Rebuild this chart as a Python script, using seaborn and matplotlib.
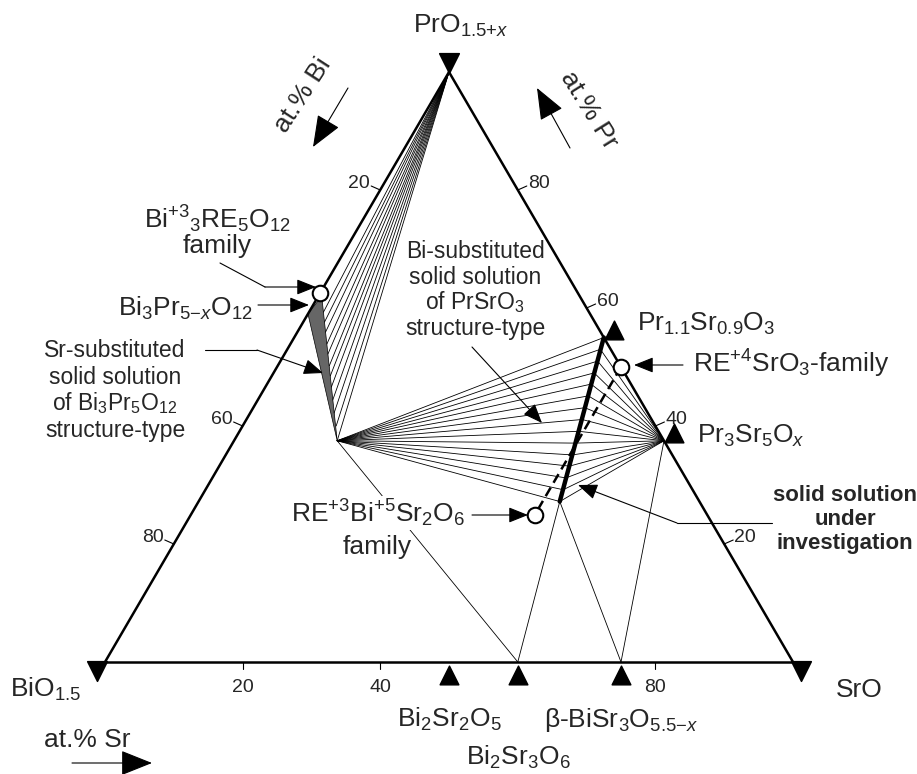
import numpy as np
import pandas as pd
import matplotlib
matplotlib.use("Agg")
import matplotlib.pyplot as plt
import seaborn as sns

sns.set_theme(style="white")
plt.rcParams["font.family"] = ["Liberation Sans", "DejaVu Sans"]
plt.rcParams.update({
    "mathtext.fontset": "custom",
    "mathtext.rm": "Liberation Sans",
    "mathtext.it": "Liberation Sans:italic",
    "mathtext.bf": "Liberation Sans:bold",
    "mathtext.default": "regular",
})

# ---------------- compositions: (Pr, Sr) atomic fractions, Bi = 1 - Pr - Sr
corner_labels = ["BiO$_{1.5}$", "SrO", "PrO$_{1.5{+}\\mathit{x}}$"]
corner_pr = [0.0, 0.0, 1.0]
corner_sr = [0.0, 1.0, 0.0]

# Bi-Sr binary phases on the base line
base_labels = ["Bi$_2$Sr$_2$O$_5$", "Bi$_2$Sr$_3$O$_6$", "β-BiSr$_3$O$_{5.5{-}\\mathit{x}}$"]
base_sr = [0.50, 0.60, 0.75]

# Pr-Sr binary phases on the right edge
prsr_labels = ["Pr$_{1.1}$Sr$_{0.9}$O$_3$", "Pr$_3$Sr$_5$O$_\\mathit{x}$"]
prsr_pr = [0.55, 0.375]
prsr_sr = [0.45, 0.625]

# structure-type families (open circles): Bi3Pr5O12, PrSrO3, PrBiSr2O6
family_pr = [0.625, 0.50, 0.25]
family_sr = [0.0, 0.50, 0.50]

# solid solution under investigation (thick line) with its tie-line ends
ss_pr = [0.550, 0.530, 0.510, 0.490, 0.471, 0.451, 0.431, 0.411,
         0.391, 0.371, 0.351, 0.332, 0.312, 0.292, 0.272]
ss_sr = [0.450, 0.455, 0.461, 0.466, 0.471, 0.477, 0.482, 0.488,
         0.493, 0.498, 0.504, 0.509, 0.514, 0.520, 0.525]

# Sr-substituted Bi3Pr5O12 strip (shaded)
strip_pr = [0.620, 0.590, 0.375]
strip_sr = [0.005, 0.000, 0.150]

# tie-line ends along the strip, joined to PrO1.5+x
strip_tie_pr = [0.593, 0.576, 0.559, 0.539, 0.522, 0.502,
                0.485, 0.466, 0.444, 0.422, 0.400, 0.375]
strip_tie_sr = [0.021, 0.031, 0.041, 0.053, 0.063, 0.075,
                0.085, 0.096, 0.109, 0.122, 0.136, 0.150]

# single tie lines towards the Bi-Sr base phases
extra_from_pr = [0.375, 0.272, 0.272, 0.375]
extra_from_sr = [0.150, 0.525, 0.525, 0.625]
extra_to_sr = [0.60, 0.60, 0.75, 0.75]

# axis graduations (at.%)
bi_ticks = [20, 60, 80]
pr_ticks = [80, 60, 40, 20]
sr_ticks = [20, 40, 80]

# ---------------- figure, drawn in pixel units
W, H = 917, 774
fig = plt.figure(figsize=(W / 100, H / 100), dpi=100)
ax = fig.add_axes([0, 0, 1, 1])

BI_X, BASE_Y, SIDE, TRI_H = 105.0, 662.0, 688.0, 590.0


def tern(pr, sr):
    pr = np.atleast_1d(np.asarray(pr, float))
    sr = np.atleast_1d(np.asarray(sr, float))
    return BI_X + SIDE * (sr + pr / 2.0), BASE_Y - TRI_H * pr


def draw_segments(p0, s0, p1, s1, **kw):
    x0, y0 = tern(p0, s0)
    x1, y1 = tern(p1, s1)
    x0, x1 = np.broadcast_arrays(x0, x1)
    y0, y1 = np.broadcast_arrays(y0, y1)
    n = len(x0)
    df = pd.DataFrame({
        "x": np.concatenate([x0, x1]),
        "y": np.concatenate([y0, y1]),
        "seg": np.tile(np.arange(n), 2),
        "order": np.repeat([0, 1], n),
    }).sort_values(["seg", "order"])
    sns.lineplot(data=df, x="x", y="y", units="seg", estimator=None,
                 sort=False, ax=ax, legend=False, **kw)


TIE = dict(color="black", linewidth=0.6)

# strip shading
sx, sy = tern(strip_pr, strip_sr)
ax.fill(sx, sy, facecolor="0.4", edgecolor="black", linewidth=0.5, zorder=2)

# fan from PrO1.5+x to the strip
draw_segments(1.0, 0.0, strip_tie_pr, strip_tie_sr, **TIE)
# fan from the strip end to the solid solution
draw_segments(strip_pr[-1], strip_sr[-1], ss_pr, ss_sr, **TIE)
# fan from Pr3Sr5Ox to the solid solution
draw_segments(prsr_pr[1], prsr_sr[1], ss_pr, ss_sr, **TIE)
# tie lines to the base phases
draw_segments(extra_from_pr, extra_from_sr, 0.0, extra_to_sr, **TIE)

# triangle frame
draw_segments(corner_pr, corner_sr, np.roll(corner_pr, -1), np.roll(corner_sr, -1),
              color="black", linewidth=1.8)

# solid solution under investigation
draw_segments(ss_pr[0], ss_sr[0], ss_pr[-1], ss_sr[-1], color="black", linewidth=3.2)
# dashed join between the two families
fx, fy = tern(family_pr, family_sr)
ax.plot(fx[1:], fy[1:], color="black", lw=1.8, ls=(0, (4.0, 2.2)), zorder=3)

# ---------------- markers
cx, cy = tern(corner_pr, corner_sr)
corner_off = np.array([[-8, 9], [8, 9], [0, -9]])
sns.scatterplot(x=cx + corner_off[:, 0], y=cy + corner_off[:, 1], marker="v", s=200,
                color="black", edgecolor="black", ax=ax, zorder=6, legend=False)

bx, by = tern(np.zeros(len(base_sr)), base_sr)
sns.scatterplot(x=bx, y=by + 13, marker="^", s=180, color="black",
                edgecolor="black", ax=ax, zorder=6, legend=False)

px_, py_ = tern(prsr_pr, prsr_sr)
sns.scatterplot(x=px_ + 10, y=py_ - 8, marker="^", s=180, color="black",
                edgecolor="black", ax=ax, zorder=6, legend=False)

sns.scatterplot(x=fx, y=fy, marker="o", s=125, color="white",
                edgecolor="black", linewidth=1.5, ax=ax, zorder=7, legend=False)

# ---------------- graduations
TICKFS = 14
for b in bi_ticks:
    x0, y0 = tern(1 - b / 100, 0.0)
    x1, y1 = x0[0] - 9, y0[0] - 4
    ax.plot([x0[0], x1], [y0[0], y1], color="black", lw=0.8)
    ax.text(x1 - 1, y1 - 3, str(b), ha="right", va="center", fontsize=TICKFS)
for p in pr_ticks:
    x0, y0 = tern(p / 100, 1 - p / 100)
    x1, y1 = x0[0] + 9, y0[0] - 4
    ax.plot([x0[0], x1], [y0[0], y1], color="black", lw=0.8)
    ax.text(x1 + 1, y1 - 3, str(p), ha="left", va="center", fontsize=TICKFS)
for s in sr_ticks:
    x0, y0 = tern(0.0, s / 100)
    ax.plot([x0[0], x0[0]], [y0[0], y0[0] + 7], color="black", lw=0.8)
    ax.text(x0[0], y0[0] + 17, str(s), ha="center", va="top", fontsize=TICKFS)

# ---------------- labels
BIG = 19
MID = 16.5
ax.text(413, 33, corner_labels[2], ha="left", va="baseline", fontsize=BIG)
ax.text(10, 697, corner_labels[0], ha="left", va="baseline", fontsize=BIG)
ax.text(836, 697, corner_labels[1], ha="left", va="baseline", fontsize=BIG)

for lab, sr_val, yb in zip(base_labels, base_sr, [727, 765, 727]):
    xb, _ = tern(0.0, sr_val)
    ax.text(xb[0], yb, lab, ha="center", va="baseline", fontsize=BIG)

ax.text(637, 331, prsr_labels[0], ha="left", va="baseline", fontsize=BIG)
ax.text(697, 443, prsr_labels[1], ha="left", va="baseline", fontsize=BIG)
ax.text(693, 373, "RE$^{{+}4}$SrO$_3$-family", ha="left", va="baseline", fontsize=BIG)

ax.text(217, 228, "Bi$^{{+}3}{}_3$RE$_5$O$_{12}$", ha="center", va="baseline", fontsize=BIG)
ax.text(217, 253, "family", ha="center", va="baseline", fontsize=BIG)
ax.text(185, 316, "Bi$_3$Pr$_{5{-}\\mathit{x}}$O$_{12}$", ha="center", va="baseline", fontsize=BIG)

for line, yb in zip(["Sr-substituted", "solid solution", "of Bi$_3$Pr$_5$O$_{12}$", "structure-type"],
                    [357, 384, 410, 437]):
    ax.text(115, yb, line, ha="center", va="baseline", fontsize=MID)

for line, yb in zip(["Bi-substituted", "solid solution", "of PrSrO$_3$", "structure-type"],
                    [258, 284, 309, 335]):
    ax.text(475, yb, line, ha="center", va="baseline", fontsize=MID, zorder=8)

WHITE = dict(facecolor="white", edgecolor="none", pad=1.0)
ax.text(291, 522, "RE$^{{+}3}$Bi$^{{+}5}$Sr$_2$O$_6$", ha="left", va="baseline",
        fontsize=BIG, bbox=WHITE, zorder=8)
ax.text(377, 554, "family", ha="center", va="baseline", fontsize=BIG, bbox=WHITE, zorder=8)

for line, yb in zip(["solid solution", "under", "investigation"], [501, 525, 549]):
    ax.text(845, yb, line, ha="center", va="baseline", fontsize=16, fontweight="bold")

ax.text(303, 95, "at.% Bi", rotation=57, ha="center", va="center", fontsize=19)
ax.text(589, 110, "at.% Pr", rotation=-58, ha="center", va="center", fontsize=19)
ax.text(87, 740, "at.% Sr", ha="center", va="center", fontsize=19)


# ---------------- arrows
def arrow(path, big=False):
    path = np.asarray(path, float)
    if len(path) > 2:
        ax.plot(path[:-1, 0], path[:-1, 1], color="black", lw=0.8, zorder=8)
    style = "-|>,head_length=1.0,head_width=0.4" if big else "-|>,head_length=0.6,head_width=0.24"
    ax.annotate("", xy=path[-1], xytext=path[-2], zorder=8,
                arrowprops=dict(arrowstyle=style, color="black", lw=0.8,
                                shrinkA=0, shrinkB=0, mutation_scale=20))


arrow([(220, 263), (265, 287), (316, 287)])
arrow([(258, 305), (309, 305)])
arrow([(205, 350), (257, 350), (323, 373)])
arrow([(472, 347), (542, 423)])
arrow([(683, 365), (634, 365)])
arrow([(472, 515), (528, 515)])
arrow([(772, 523), (677, 523), (578, 485)])
arrow([(348, 88), (313, 147)], big=True)
arrow([(570, 148), (537, 88)], big=True)
arrow([(72, 763), (152, 763)], big=True)

ax.set_xlim(0, W)
ax.set_ylim(H, 0)
ax.axis("off")
fig.savefig("out.png", dpi=100, facecolor="white")
